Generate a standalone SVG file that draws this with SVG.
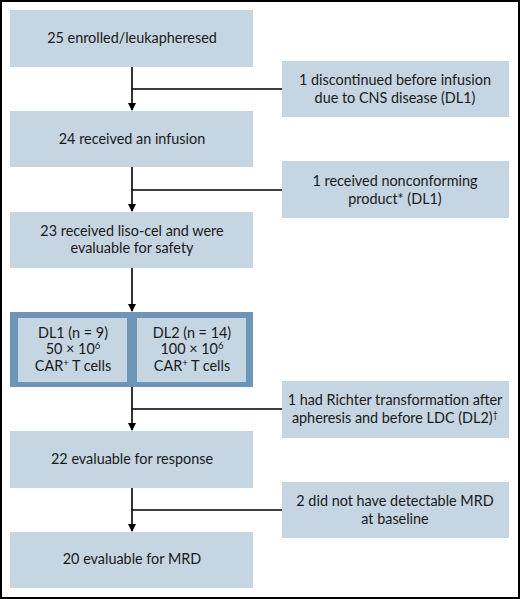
<svg xmlns="http://www.w3.org/2000/svg" width="520" height="599" viewBox="0 0 520 599">
<defs>
<style>
.box{fill:#c5d5e2}
.outer{fill:#6f95b6}
.t{font-family:Lato,"Open Sans",sans-serif;font-size:14.4px;fill:#1a1a1a;text-anchor:middle}
.ln{stroke:#000;stroke-width:1.6;fill:none}
.sup{font-size:9.5px}
</style>
<marker id="arr" markerWidth="8" markerHeight="8" refX="7" refY="4" orient="auto" markerUnits="userSpaceOnUse">
<path d="M0,0 L8,4 L0,8 Z" fill="#000"/>
</marker>
</defs>
<rect x="1" y="1" width="518" height="597" fill="#fff" stroke="#000" stroke-width="2"/>
<g id="connectors">
<line class="ln" x1="132" y1="67" x2="132" y2="110" marker-end="url(#arr)"/>
<line class="ln" x1="132" y1="89" x2="282" y2="89"/>
<line class="ln" x1="132" y1="167" x2="132" y2="211" marker-end="url(#arr)"/>
<line class="ln" x1="132" y1="190" x2="282" y2="190"/>
<line class="ln" x1="132" y1="268" x2="132" y2="311" marker-end="url(#arr)"/>
<line class="ln" x1="132" y1="387" x2="132" y2="430" marker-end="url(#arr)"/>
<line class="ln" x1="132" y1="409" x2="282" y2="409"/>
<line class="ln" x1="132" y1="488" x2="132" y2="531" marker-end="url(#arr)"/>
<line class="ln" x1="132" y1="510" x2="282" y2="510"/>
</g>
<g id="n1"><rect class="box" x="10" y="10" width="243" height="57"/><text class="t" x="132" y="43">25 enrolled/leukapheresed</text></g>
<g id="r1"><rect class="box" x="282" y="61" width="227" height="56"/><text class="t" x="395" y="85">1 discontinued before infusion</text><text class="t" x="395" y="103">due to CNS disease (DL1)</text></g>
<g id="n2"><rect class="box" x="10" y="111" width="243" height="56"/><text class="t" x="132" y="144">24 received an infusion</text></g>
<g id="r2"><rect class="box" x="282" y="161" width="227" height="57"/><text class="t" x="395" y="186">1 received nonconforming</text><text class="t" x="395" y="204">product* (DL1)</text></g>
<g id="n3"><rect class="box" x="10" y="212" width="243" height="56"/><text class="t" x="132" y="236">23 received liso-cel and were</text><text class="t" x="132" y="253">evaluable for safety</text></g>
<g id="n4"><rect class="outer" x="10" y="312" width="243" height="75"/>
<rect class="box" x="18" y="318" width="109" height="64"/>
<rect class="box" x="137" y="318" width="109" height="64"/>
<text class="t" x="73" y="338">DL1 (n = 9)</text>
<text class="t" x="73" y="354">50 × 10<tspan class="sup" dy="-5">6</tspan></text>
<text class="t" x="73" y="371">CAR<tspan class="sup" dy="-5">+</tspan><tspan dy="5"> T cells</tspan></text>
<text class="t" x="192" y="338">DL2 (n = 14)</text>
<text class="t" x="192" y="354">100 × 10<tspan class="sup" dy="-5">6</tspan></text>
<text class="t" x="192" y="371">CAR<tspan class="sup" dy="-5">+</tspan><tspan dy="5"> T cells</tspan></text>
</g>
<g id="r3"><rect class="box" x="282" y="381" width="227" height="57"/><text class="t" x="395" y="405">1 had Richter transformation after</text><text class="t" x="395" y="423">apheresis and before LDC (DL2)<tspan class="sup" dy="-5">†</tspan></text></g>
<g id="n5"><rect class="box" x="10" y="431" width="243" height="57"/><text class="t" x="132" y="464">22 evaluable for response</text></g>
<g id="r4"><rect class="box" x="282" y="482" width="227" height="56"/><text class="t" x="395" y="506">2 did not have detectable MRD</text><text class="t" x="395" y="524">at baseline</text></g>
<g id="n6"><rect class="box" x="10" y="532" width="243" height="56"/><text class="t" x="132" y="564">20 evaluable for MRD</text></g>
</svg>
